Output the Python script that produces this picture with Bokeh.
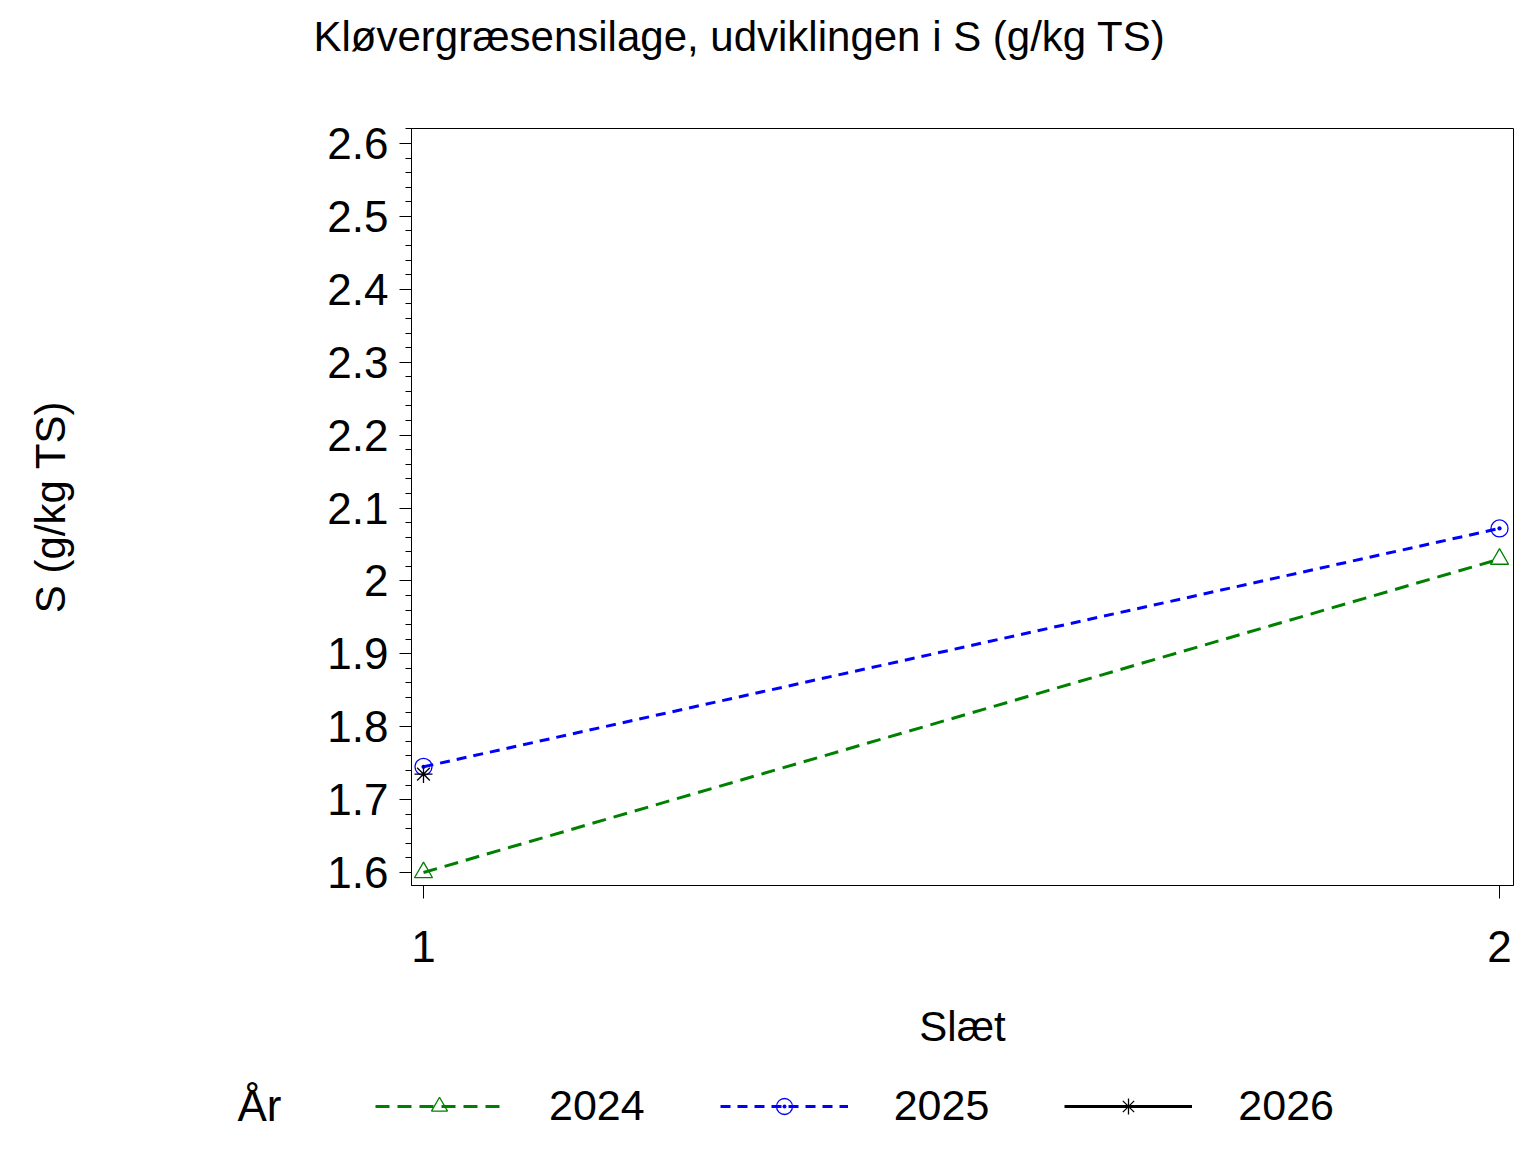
from bokeh.plotting import figure
from bokeh.layouts import column, row
from bokeh.models import (FixedTicker, CustomJSTickFormatter, Range1d, Legend, LegendItem, Label)
from bokeh.embed import file_html
from bokeh.resources import INLINE
import numpy as np

# ---- data ----
slaet = [1, 2]
s_2024 = [1.60, 2.03]
s_2025 = [1.745, 2.072]
slaet_2026 = [1]
s_2026 = [1.735]
years = ["2024", "2025", "2026"]
y_ticks = [1.6, 1.7, 1.8, 1.9, 2.0, 2.1, 2.2, 2.3, 2.4, 2.5, 2.6]
x_ticks = [1, 2]
title_text = "Kløvergræsensilage, udviklingen i S (g/kg TS)"
y_label = "S (g/kg TS)"
x_label = "Slæt"
legend_title = "År"

FONT = "Liberation Sans"
BLK = "#000000"
GREEN = "#008000"
BLUE = "#0000ff"
W = 1528
TH = 110
PH = 950
LH = 84


def no_align(f):
    if "frame_align" in f.properties():
        f.frame_align = False


def strip(h):
    f = figure(width=W, height=h, output_backend="svg", toolbar_location=None,
               x_axis_location=None, y_axis_location=None,
               x_range=Range1d(0, W), y_range=Range1d(h, 0),
               min_border_left=0, min_border_right=0, min_border_top=0, min_border_bottom=0)
    no_align(f)
    f.outline_line_color = None
    f.xgrid.visible = False
    f.ygrid.visible = False
    f.background_fill_color = "white"
    f.border_fill_color = "white"
    return f


# ---- title strip ----
t = strip(TH)
t.add_layout(Label(x=313, y=36, text=title_text, text_align="left", text_baseline="middle",
                   text_font=FONT, text_font_size="42px", text_color=BLK))

# ---- main plot ----
p = figure(width=W, height=PH, output_backend="svg", toolbar_location=None, title=None,
           x_range=Range1d(0.98885, 2.0130), y_range=Range1d(1.5822, 2.6206),
           min_border_left=411, min_border_right=15, min_border_top=18, min_border_bottom=175)
no_align(p)
p.background_fill_color = "white"
p.border_fill_color = "white"
p.outline_line_color = "black"
p.outline_line_width = 1
p.xgrid.visible = False
p.ygrid.visible = False

yax = p.yaxis[0]
minor = [round(v, 2) for v in np.arange(1.58, 2.621, 0.02)]
yax.ticker = FixedTicker(ticks=y_ticks, minor_ticks=minor)
yax.formatter = CustomJSTickFormatter(code="return (Math.round(tick*10)/10).toString();")
yax.major_tick_out = 12
yax.major_tick_in = 0
yax.minor_tick_out = 6
yax.minor_tick_in = 0
yax.major_label_text_font = FONT
yax.major_label_text_font_size = "44px"
yax.major_label_text_color = BLK
yax.major_label_standoff = 11
yax.axis_label = y_label
yax.axis_label_text_font = FONT
yax.axis_label_text_font_size = "42px"
yax.axis_label_text_font_style = "normal"
yax.axis_label_text_color = BLK
yax.axis_label_standoff = 250
yax.axis_line_color = BLK
yax.major_tick_line_color = BLK
yax.minor_tick_line_color = BLK

xax = p.xaxis[0]
xax.ticker = FixedTicker(ticks=x_ticks, minor_ticks=[])
xax.major_tick_out = 13
xax.major_tick_in = 0
xax.major_label_text_font = FONT
xax.major_label_text_font_size = "44px"
xax.major_label_text_color = BLK
xax.major_label_standoff = 32
xax.axis_label = x_label
xax.axis_label_text_font = FONT
xax.axis_label_text_font_size = "42px"
xax.axis_label_text_font_style = "normal"
xax.axis_label_text_color = BLK
xax.axis_label_standoff = 38
xax.axis_line_color = BLK
xax.major_tick_line_color = BLK

p.line(slaet, s_2024, line_color=GREEN, line_width=3, line_dash="14 8")
p.scatter(slaet, s_2024, marker="triangle", size=18, line_color=GREEN, fill_color=None, line_width=1.3)
p.line(slaet, s_2025, line_color=BLUE, line_width=3, line_dash="10 7")
p.scatter(slaet, s_2025, marker="circle_dot", size=17, line_color=BLUE, fill_color=None, line_width=1.3)
p.line(slaet_2026, s_2026, line_color=BLK, line_width=3)
p.scatter(slaet_2026, s_2026, marker="asterisk", size=18, line_color=BLK, line_width=1.3)

# ---- legend strip ----
q = strip(LH)
# series copies on an off-screen range: they only supply the legend samples
q.extra_x_ranges = {"off": Range1d(10, 11)}

q.add_layout(Label(x=237, y=45, text=legend_title, text_align="left", text_baseline="middle",
                   text_font=FONT, text_font_size="44px", text_color=BLK))

k1 = q.line(slaet, s_2024, x_range_name="off", line_color=GREEN, line_width=3, line_dash="14 8")
n1 = q.scatter(slaet, s_2024, x_range_name="off", marker="triangle", size=18, line_color=GREEN,
               fill_color=None, line_width=1.3)
k2 = q.line(slaet, s_2025, x_range_name="off", line_color=BLUE, line_width=3, line_dash="10 7")
n2 = q.scatter(slaet, s_2025, x_range_name="off", marker="circle_dot", size=17, line_color=BLUE,
               fill_color=None, line_width=1.3)
k3 = q.line(slaet_2026, s_2026, x_range_name="off", line_color=BLK, line_width=3)
n3 = q.scatter(slaet_2026, s_2026, x_range_name="off", marker="asterisk", size=18, line_color=BLK,
               line_width=1.3)

legend = Legend(items=[LegendItem(label=years[0], renderers=[k1, n1]),
                       LegendItem(label=years[1], renderers=[k2, n2]),
                       LegendItem(label=years[2], renderers=[k3, n3])],
                orientation="horizontal", location=(375, 14),
                label_text_font=FONT, label_text_font_size="43px", label_text_color=BLK,
                glyph_width=128, glyph_height=40, label_standoff=46, spacing=75,
                padding=0, margin=0, border_line_color=None, background_fill_alpha=0)
q.add_layout(legend, "center")

open("out.html", "w").write(file_html(column(row(t), p, row(q), spacing=0), INLINE))
